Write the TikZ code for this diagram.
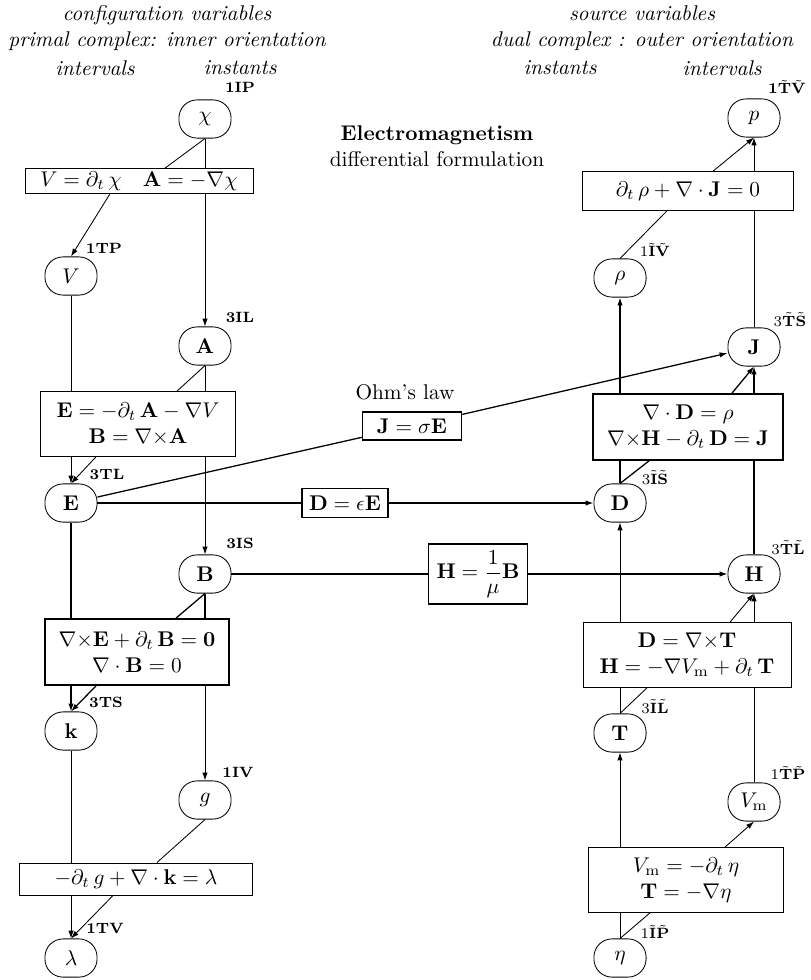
\documentclass[tikz,border=0pt]{standalone}
\usepackage{amsmath}
\usepackage{tikz}
\usetikzlibrary{arrows.meta,calc}
\newcommand{\tlbf}[1]{\tilde{\mathbf{#1}}}

\begin{document}
\begin{tikzpicture}[x=0.0165cm, y=-0.0165cm,
var/.style={draw, rounded corners=8.5pt, minimum width=0.86cm, minimum height=0.63cm, inner sep=1pt},
eq/.style={draw, align=center, inner sep=1pt},
law/.style={eq, thick},
tag/.style={font=\scriptsize\bfseries, inner sep=0pt},
head/.style={font=\itshape, align=center},
arrow/.style={-{Latex[length=1.3mm,width=0.9mm]}},
link/.style={semithick}
]
\useasboundingbox (0,0) rectangle (811,980);

\node[head] (hl) at (167,28) {configuration variables\\primal complex: inner orientation};
\node[head] (hlint) at (95,68) {intervals};
\node[head] (hlins) at (240,68) {instants};
\node[head] (hr) at (642,28) {source variables\\dual complex : outer orientation};
\node[head] (hrins) at (560,68) {instants};
\node[head] (hrint) at (722,68) {intervals};
\node[align=center] (title) at (437,146) {\textbf{Electromagnetism}\\differential formulation};

\node[var] (chi) at (205,119) {$\chi$};
\node[eq, minimum width=3.76cm, minimum height=0.41cm] (bchi) at (139,181) {$V=\partial_t\,\chi\quad\mathbf{A}=-\nabla\chi$};
\node[var] (V) at (71,276) {$V$};
\node[var] (A) at (205,346) {$\mathbf{A}$};
\node[eq, minimum width=3.22cm, minimum height=1.07cm] (bEB) at (138,424) {$\mathbf{E}=-\partial_t\,\mathbf{A}-\nabla V$\\$\mathbf{B}=\nabla{\times}\mathbf{A}$};
\node[var] (E) at (71,503) {$\mathbf{E}$};
\node[var] (B) at (205,574) {$\mathbf{B}$};
\node[law, minimum width=3.04cm, minimum height=1.09cm] (bfar) at (137,652) {$\nabla{\times}\mathbf{E}+\partial_t\,\mathbf{B}=\mathbf{0}$\\$\nabla\cdot\mathbf{B}=0$};
\node[var] (k) at (71,731) {$\mathbf{k}$};
\node[var] (g) at (205,800) {$g$};
\node[eq, minimum width=3.83cm, minimum height=0.53cm] (bcons) at (136,879) {$-\partial_t\,g+\nabla\cdot\mathbf{k}=\lambda$};
\node[var] (lam) at (71,958) {$\lambda$};

\node[var] (p) at (754,118) {$p$};
\node[eq, minimum width=3.47cm, minimum height=0.64cm] (bcont) at (688,191) {$\partial_t\,\rho+\nabla\cdot\mathbf{J}=0$};
\node[var] (rho) at (620,278) {$\rho$};
\node[var] (J) at (754,347) {$\mathbf{J}$};
\node[law, minimum width=3.14cm, minimum height=1.09cm] (bamp) at (688,427) {$\nabla\cdot\mathbf{D}=\rho$\\$\nabla{\times}\mathbf{H}-\partial_t\,\mathbf{D}=\mathbf{J}$};
\node[var] (D) at (620,503) {$\mathbf{D}$};
\node[var] (H) at (754,574) {$\mathbf{H}$};
\node[eq, minimum width=3.43cm, minimum height=1.07cm] (bDT) at (687,655) {$\mathbf{D}=\nabla{\times}\mathbf{T}$\\$\mathbf{H}=-\nabla V_{\mathrm{m}}+\partial_t\,\mathbf{T}$};
\node[var] (T) at (620,733) {$\mathbf{T}$};
\node[var] (Vm) at (754,802) {$V_{\mathrm{m}}$};
\node[eq, minimum width=3.22cm, minimum height=1.07cm] (beta) at (686,880) {$V_{\mathrm{m}}=-\partial_t\,\eta$\\$\mathbf{T}=-\nabla\eta$};
\node[var] (eta) at (620,958) {$\eta$};

\node (ohmlbl) at (405,392) {Ohm's law};
\node[law, minimum width=1.63cm, minimum height=0.46cm] (ohm) at (412,426) {$\mathbf{J}=\sigma\mathbf{E}$};
\node[law, minimum width=1.42cm, minimum height=0.48cm] (deps) at (345,503) {$\mathbf{D}=\epsilon\mathbf{E}$};
\node[law, minimum width=1.63cm, minimum height=1.0cm] (hmu) at (478,574) {$\mathbf{H}=\dfrac{1}{\mu}\mathbf{B}$};

\node[tag] (tchi) at (240,87) {1IP};
\node[tag] (tV) at (104,248) {1TP};
\node[tag] (tA) at (240,317) {3IL};
\node[tag] (tE) at (107,474) {3TL};
\node[tag] (tB) at (240,543) {3IS};
\node[tag] (tk) at (106,702) {3TS};
\node[tag] (tg) at (238,772) {1IV};
\node[tag] (tlam) at (105,928) {1TV};
\node[tag] (tp) at (787,87) {1$\tlbf T\tlbf V$};
\node[tag] (trho) at (655,250) {{\mdseries 1}$\tlbf I\tlbf V$};
\node[tag] (tJ) at (790,320) {{\mdseries 3}$\tlbf T\tlbf S$};
\node[tag] (tD) at (655,478) {{\mdseries 3}$\tlbf I\tlbf S$};
\node[tag] (tH) at (788,548) {{\mdseries 3}$\tlbf T\tlbf L$};
\node[tag] (tT) at (655,707) {{\mdseries 3}$\tlbf I\tlbf L$};
\node[tag] (tVm) at (788,773) {{\mdseries 1}$\tlbf T\tlbf P$};
\node[tag] (teta) at (655,932) {{\mdseries 1}$\tlbf I\tlbf P$};

\draw (chi.south) -- ($(bchi.north)+(26,0)$);
\draw (chi) -- (bchi.north -| chi);
\draw[arrow] ($(bchi.south)+(-29,0)$) -- (V.north);
\draw[arrow] (bchi.south -| A) -- (A);
\draw (V) -- (bEB.north -| V);
\draw (A.south) -- ($(bEB.north)+(39,0)$);
\draw (A) -- (bEB.north -| A);
\draw[arrow] (bEB.south -| E) -- (E.north);
\draw[arrow] ($(bEB.south)+(-42,0)$) -- (E.north);
\draw[arrow] (bEB.south -| B) -- (B);
\draw[link] (E) -- (bfar.north -| E);
\draw[link] (B.south) -- ($(bfar.north)+(39,0)$);
\draw[link] (B) -- (bfar.north -| B);
\draw[arrow, link] (bfar.south -| k) -- (k.north);
\draw[arrow, link] ($(bfar.south)+(-41,0)$) -- (k.north);
\draw[arrow] (bfar.south -| g) -- (g);
\draw (k) -- (bcons.north -| k);
\draw (g.south) -- ($(bcons.north)+(21,0)$);
\draw[arrow] (bcons.south -| lam) -- (lam.north);
\draw[arrow] ($(bcons.south)+(-23,0)$) -- (lam.north);

\draw[arrow] (bcont.north -| p) -- (p.south);
\draw[arrow] ($(bcont.north)+(25,0)$) -- (p.south);
\draw (rho.north) -- ($(bcont.south)+(-21,0)$);
\draw (J) -- (bcont.south -| J);
\draw[arrow, link] (bamp.north -| rho) -- (rho.south);
\draw[arrow, link] (bamp.north -| J) -- (J.south);
\draw[arrow, link] ($(bamp.north)+(44,0)$) -- (J.south);
\draw[link] (D) -- (bamp.south -| D);
\draw[link] (D.north) -- ($(bamp.south)+(-39,0)$);
\draw[link] (H) -- (bamp.south -| H);
\draw[arrow] (bDT.north -| D) -- (D.south);
\draw[arrow] (bDT.north -| H) -- (H.south);
\draw[arrow] ($(bDT.north)+(43,0)$) -- (H.south);
\draw (T) -- (bDT.south -| T);
\draw (T.north) -- ($(bDT.south)+(-40,0)$);
\draw (Vm) -- (bDT.south -| Vm);
\draw[arrow] (beta.north -| T) -- (T.south);
\draw[arrow] ($(beta.north)+(39,0)$) -- (Vm.south);
\draw (eta) -- (beta.south -| eta);
\draw (eta.north) -- ($(beta.south)+(-36,0)$);

\draw[link] (E) -- (deps);
\draw[arrow, link] (deps) -- (D);
\draw[link] (B) -- (hmu);
\draw[arrow, link] (hmu) -- (H);
\draw[link] (E) -- (ohm);
\draw[arrow, link] (ohm) -- (J);
\end{tikzpicture}
\end{document}
